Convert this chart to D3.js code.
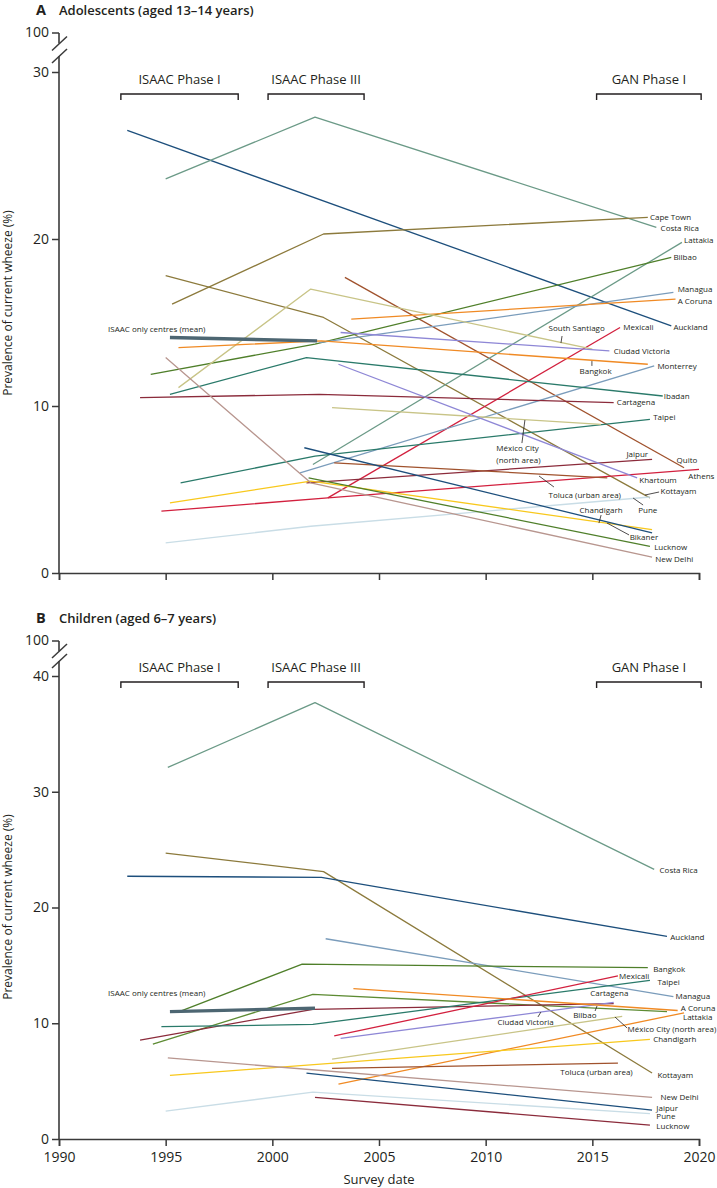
<!DOCTYPE html>
<html>
<head>
<meta charset="utf-8">
<script src="https://cdn.jsdelivr.net/npm/d3@7"></script>
<style>
body { margin: 0; background: #fff; }
svg text { font-family: "Open Sans", sans-serif; fill: #231f20; }
</style>
</head>
<body>
<svg id="chart"></svg>
<script>
const svgWidth = 717, svgHeight = 1188;

// x axis ticks and study phases
const xTicks = [1990, 1995, 2000, 2005, 2010, 2015, 2020];
const phaseNames = ["ISAAC Phase I", "ISAAC Phase III", "GAN Phase I"];
const phaseStart = [1992.9, 1999.8, 2015.2];
const phaseEnd = [1998.4, 2004.3, 2020.1];

// panel A: adolescents
const yTicksA = [0, 10, 20, 30];
const namesA = ["Auckland", "Costa Rica", "Cape Town", "Kottayam", "Quito", "Lattakia", "Bilbao",
  "Managua", "A Coruna", "Mexicali", "South Santiago", "Ciudad Victoria", "Bangkok", "Monterrey",
  "Ibadan", "Cartagena", "Taipei", "México City", "Jaipur", "Athens", "Khartoum", "Toluca",
  "Pune", "Chandigarh", "Bikaner", "Lucknow", "New Delhi", "ISAAC only centres (mean)"];
const yearsA = [[1993.2, 2018.7], [1995.0, 2002.0, 2018.0], [1995.3, 2002.4, 2017.6], [1995.0, 2002.4, 2017.7],
  [2003.4, 2019.3], [2001.9, 2019.2], [1994.3, 2002.0, 2018.7], [2002.2, 2018.8], [2003.7, 2018.9],
  [2002.6, 2016.3], [1995.6, 2001.8, 2015.0], [2003.2, 2015.8], [1995.6, 2002.3, 2017.6], [2001.3, 2017.9],
  [1995.2, 2001.6, 2018.3], [1993.8, 2002.2, 2016.0], [1995.7, 2002.0, 2017.7], [2002.8, 2015.4],
  [2001.6, 2017.8], [1994.8, 2002.6, 2020.0], [2003.1, 2017.1], [2002.9, 2015.7], [1995.0, 2001.8, 2017.7],
  [1995.2, 2001.8, 2017.8], [2001.5, 2017.8], [2001.7, 2017.7], [1995.0, 2001.8, 2017.8], [1995.2, 2002.1]];
const valuesA = [[26.5, 14.8], [23.6, 27.3, 20.7], [16.1, 20.3, 21.3], [17.8, 15.3, 4.5],
  [17.7, 6.3], [6.5, 19.8], [11.9, 13.7, 18.9], [13.8, 16.8], [15.2, 16.4],
  [4.5, 14.7], [11.1, 17.0, 13.4], [14.4, 13.3], [13.5, 13.9, 12.5], [6.0, 12.4],
  [10.7, 12.9, 10.6], [10.5, 10.7, 10.2], [5.4, 7.0, 9.2], [9.9, 8.9],
  [5.4, 6.8], [3.7, 4.5, 6.2], [12.5, 5.7], [6.6, 5.7], [1.8, 2.8, 4.55],
  [4.2, 5.5, 2.6], [7.5, 2.4], [5.7, 1.6], [12.9, 5.4, 0.95], [14.1, 13.9]];
const colorsA = ["#1d4f7c", "#6b9a87", "#8c7a3c", "#8c7a3c", "#a0522d", "#6b9a87", "#4f7f2a",
  "#7a9cbb", "#f08a24", "#d2203e", "#c8c487", "#8e87d6", "#f08a24", "#7a9cbb",
  "#2a7a6a", "#8b2b3b", "#2a7a6a", "#c8c487", "#8b2b3b", "#d2203e", "#8e87d6", "#a0522d",
  "#c9dde6", "#f8c81c", "#1d4f7c", "#4f7f2a", "#b8968f", "#4d6672"];

// panel B: children
const yTicksB = [0, 10, 20, 30, 40];
const namesB = ["Costa Rica", "Kottayam", "Auckland", "Managua", "Bangkok", "Bilbao", "Cartagena",
  "Taipei", "Mexicali", "Ciudad Victoria", "A Coruna", "Lattakia", "México City (north area)",
  "Chandigarh", "Toluca (urban area)", "New Delhi", "Jaipur", "Pune", "Lucknow", "ISAAC only centres (mean)"];
const yearsB = [[1995.1, 2002.0, 2017.9], [1995.0, 2002.4, 2017.8], [1993.2, 2002.3, 2018.5], [2002.5, 2018.8],
  [1995.7, 2001.4, 2017.6], [1994.4, 2001.9, 2018.5], [1993.8, 2001.9, 2016.0], [1994.8, 2001.9, 2017.7],
  [2002.9, 2016.2], [2003.2, 2016.0], [2003.8, 2019.0], [2003.1, 2019.3], [2002.8, 2016.4],
  [1995.2, 2017.7], [2002.8, 2016.2], [1995.1, 2017.8], [2001.6, 2017.8], [1995.0, 2001.9, 2017.7],
  [2002.0, 2017.7], [1995.2, 2002.0]];
const valuesB = [[32.1, 37.7, 23.3], [24.7, 23.1, 5.7], [22.7, 22.6, 17.5], [17.3, 12.3],
  [11.05, 15.1, 14.8], [8.2, 12.5, 11.0], [8.55, 11.2, 11.7], [9.7, 9.9, 13.7],
  [8.9, 14.1], [8.7, 11.8], [13.0, 11.1], [4.75, 10.9], [6.9, 10.6],
  [5.5, 8.6], [6.1, 6.55], [7.0, 3.6], [5.7, 2.5], [2.4, 4.05, 2.2],
  [3.6, 1.2], [11.0, 11.3]];
const colorsB = ["#6b9a87", "#8c7a3c", "#1d4f7c", "#7a9cbb", "#4f7f2a", "#5d8b33", "#8b2b3b",
  "#2a7a6a", "#d2203e", "#8e87d6", "#f08a24", "#f08a24", "#c8c487",
  "#f8c81c", "#a0522d", "#b8968f", "#1d4f7c", "#c9dde6", "#8b2b3b", "#4d6672"];

// label anchors in data units (year, prevalence)
const labelsA = [
  ["Cape Town", 2017.7, 21.3], ["Costa Rica", 2018.2, 20.65], ["Lattakia", 2019.3, 19.9], ["Bilbao", 2018.8, 18.9],
  ["Managua", 2019.0, 17.0], ["A Coruna", 2019.0, 16.3], ["Auckland", 2018.8, 14.7], ["Mexicali", 2016.45, 14.7],
  ["South Santiago", 2012.95, 14.65], ["Ciudad Victoria", 2016.0, 13.3], ["Bangkok", 2014.4, 12.1],
  ["Monterrey", 2018.05, 12.4], ["Ibadan", 2018.35, 10.6], ["Cartagena", 2016.15, 10.2], ["Taipei", 2017.85, 9.3],
  ["México City", 2010.5, 7.5], ["(north area)", 2010.5, 6.78], ["Jaipur", 2016.6, 7.13], ["Quito", 2018.95, 6.78],
  ["Athens", 2019.5, 5.8], ["Khartoum", 2017.2, 5.57], ["Toluca (urban area)", 2012.95, 4.67],
  ["Kottayam", 2018.2, 4.9], ["Pune", 2017.15, 3.77], ["Chandigarh", 2014.4, 3.77], ["Bikaner", 2016.75, 2.16],
  ["Lucknow", 2017.9, 1.56], ["New Delhi", 2017.95, 0.84], ["ISAAC only centres (mean)", 1992.3, 14.6]];
const leadersA = [[2013.58, 14.19, 2013.53, 13.77], [2014.98, 12.69, 2014.98, 12.4], [2011.7, 7.78, 2011.84, 9.16],
  [2013.2, 5.15, 2012.5, 5.81], [2017.47, 4.67, 2018.13, 4.85], [2016.91, 4.49, 2017.38, 4.07],
  [2015.41, 3.47, 2015.31, 2.99], [2016.72, 2.28, 2015.69, 2.99]];
const labelsB = [
  ["Costa Rica", 2018.15, 23.25], ["Auckland", 2018.65, 17.45], ["Bangkok", 2017.85, 14.7], ["Mexicali", 2016.25, 14.1],
  ["Taipei", 2018.05, 13.55], ["Cartagena", 2014.9, 12.6], ["Managua", 2018.9, 12.35], ["A Coruna", 2019.15, 11.3],
  ["Lattakia", 2019.25, 10.55], ["Bilbao", 2014.1, 10.7], ["Ciudad Victoria", 2010.55, 10.1],
  ["México City (north area)", 2016.65, 9.5], ["Chandigarh", 2017.85, 8.65], ["Toluca (urban area)", 2013.5, 5.8],
  ["Kottayam", 2018.05, 5.5], ["New Delhi", 2018.2, 3.62], ["Jaipur", 2018.0, 2.7], ["Pune", 2018.0, 1.95],
  ["Lucknow", 2018.0, 1.08], ["ISAAC only centres (mean)", 1992.3, 12.6]];
const leadersB = [[2015.13, 11.06, 2015.22, 11.49], [2012.45, 10.54, 2012.59, 10.97], [2016.06, 10.54, 2016.63, 9.59]];

const chart = d3.select("#chart")
  .attr("width", svgWidth)
  .attr("height", svgHeight);

var xScale = d3.scaleLinear().domain([1990, 2020]).range([59, 699]);

function drawPanel(p) {
  const g = chart.append("g");
  const y = p.y;
  const axisX = xScale(1990);

  // panel title
  g.append("text").attr("x", 36).attr("y", p.titleY)
    .style("font-size", "14.5px").style("font-weight", 700).text(p.letter);
  g.append("text").attr("x", 59).attr("y", p.titleY)
    .style("font-size", "13px").style("font-weight", 600).text(p.title);

  // study phase brackets
  phaseNames.forEach(function(name, i) {
    const x0 = xScale(phaseStart[i]), x1 = xScale(phaseEnd[i]);
    g.append("path")
      .attr("d", `M${x0},${p.bracketY + 6}V${p.bracketY}H${x1}V${p.bracketY + 6}`)
      .attr("fill", "none").attr("stroke", "#231f20").attr("stroke-width", 1.4);
    g.append("text").attr("x", (x0 + x1) / 2).attr("y", p.bracketY - 10)
      .attr("text-anchor", "middle").style("font-size", "13px").text(name);
  });

  // y axis
  const yAxis = d3.axisLeft(y).tickValues(p.yTicks).tickSize(7).tickPadding(3);
  const ya = g.append("g").attr("transform", `translate(${axisX},0)`).call(yAxis);
  ya.select(".domain").remove();
  ya.selectAll("line").attr("stroke", "#3a3a3a").attr("stroke-width", 1.5);
  ya.selectAll("text").style("font-size", "14px").style("font-family", "Open Sans").attr("fill", "#3a3a3a");

  // broken axis up to 100
  g.append("line").attr("x1", axisX).attr("x2", axisX).attr("y1", p.y100).attr("y2", p.brk[0])
    .attr("stroke", "#3a3a3a").attr("stroke-width", 1.6);
  g.append("line").attr("x1", axisX).attr("x2", axisX).attr("y1", p.brk[1]).attr("y2", y(0))
    .attr("stroke", "#3a3a3a").attr("stroke-width", 1.6);
  g.append("line").attr("x1", axisX - 7).attr("x2", axisX).attr("y1", p.y100).attr("y2", p.y100)
    .attr("stroke", "#3a3a3a").attr("stroke-width", 1.5);
  g.append("text").attr("x", axisX - 10).attr("y", p.y100).attr("dy", "0.32em")
    .attr("text-anchor", "end").style("font-size", "14px").attr("fill", "#3a3a3a").text("100");
  p.brk.forEach(function(c) {
    g.append("line").attr("x1", axisX - 7).attr("y1", c + 7).attr("x2", axisX + 8).attr("y2", c - 7)
      .attr("stroke", "#3a3a3a").attr("stroke-width", 1.5);
  });

  // x axis
  const xAxis = d3.axisBottom(xScale).tickValues(xTicks).tickSize(7).tickPadding(6)
    .tickFormat(p.xLabels ? d3.format("d") : "");
  const xa = g.append("g").attr("transform", `translate(0,${y(0)})`).call(xAxis);
  xa.select(".domain").attr("stroke", "#3a3a3a").attr("stroke-width", 1.6);
  xa.selectAll("line").attr("stroke", "#3a3a3a").attr("stroke-width", 1.5);
  xa.selectAll("text").style("font-size", "14px").style("font-family", "Open Sans").attr("fill", "#3a3a3a");

  // y axis title
  g.append("text")
    .attr("transform", `translate(12,${p.yTitleY}) rotate(-90)`)
    .attr("text-anchor", "middle").style("font-size", "12px").attr("fill", "#3a3a3a")
    .text("Prevalence of current wheeze (%)");

  // series lines
  var valueline = d3.line().x(d => xScale(d[0])).y(d => y(d[1]));
  p.names.forEach(function(name, i) {
    const pts = p.years[i].map((yr, j) => [yr, p.values[i][j]]);
    const isMean = name.indexOf("ISAAC") === 0;
    g.append("path").datum(pts)
      .attr("d", valueline)
      .attr("fill", "none")
      .attr("stroke", p.colors[i])
      .attr("stroke-width", isMean ? 3.4 : 1.3)
      .attr("stroke-linejoin", "round");
  });

  // leader lines
  p.leaders.forEach(function(l) {
    g.append("line")
      .attr("x1", xScale(l[0])).attr("y1", y(l[1]))
      .attr("x2", xScale(l[2])).attr("y2", y(l[3]))
      .attr("stroke", "#231f20").attr("stroke-width", 0.8);
  });

  // labels
  p.labels.forEach(function(l) {
    g.append("text").attr("x", xScale(l[1])).attr("y", y(l[2])).attr("dy", "0.35em")
      .style("font-size", "8px").text(l[0]);
  });
}

drawPanel({
  letter: "A", title: "Adolescents (aged 13–14 years)", titleY: 15,
  y: d3.scaleLinear().domain([0, 30]).range([573, 72]),
  yTicks: yTicksA, y100: 33, brk: [43.5, 56], bracketY: 94, yTitleY: 303, xLabels: false,
  names: namesA, years: yearsA, values: valuesA, colors: colorsA, labels: labelsA, leaders: leadersA
});

drawPanel({
  letter: "B", title: "Children (aged 6–7 years)", titleY: 623,
  y: d3.scaleLinear().domain([0, 40]).range([1139, 676]),
  yTicks: yTicksB, y100: 641, brk: [651, 661], bracketY: 682, yTitleY: 907, xLabels: true,
  names: namesB, years: yearsB, values: valuesB, colors: colorsB, labels: labelsB, leaders: leadersB
});

chart.append("text").attr("x", 379).attr("y", 1184).attr("text-anchor", "middle")
  .style("font-size", "13px").attr("fill", "#3a3a3a").text("Survey date");
</script>
</body>
</html>
